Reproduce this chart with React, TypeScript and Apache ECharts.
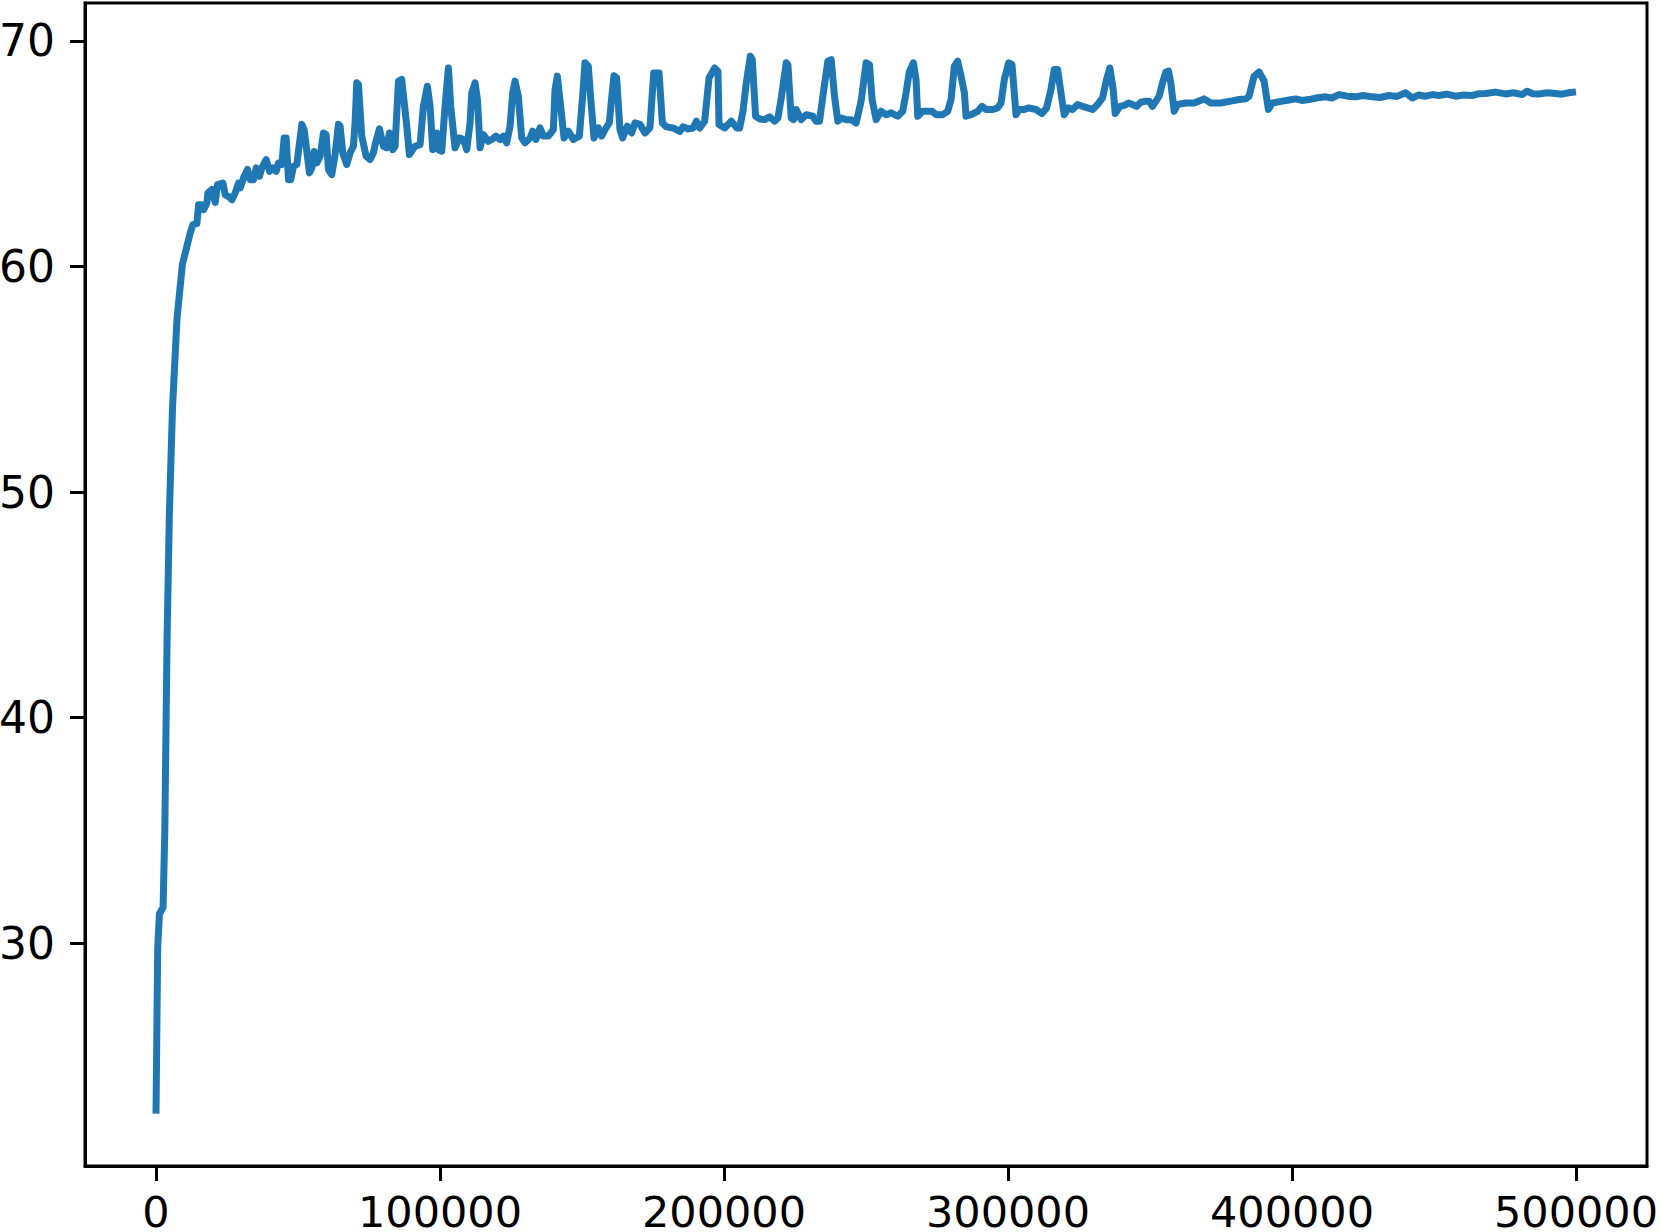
import React, { useEffect, useRef } from "react";
import * as echarts from "echarts";

// Training steps (x) and accuracy values (y)
const steps: number[] = [
  0, 600, 1200, 2500, 3100, 3900, 4700, 5800, 7400, 9300, 10900, 12060, 13000, 14400, 15000,
  16170, 16760, 17930, 18280, 19680, 20850, 21670, 23550, 24370, 25540, 26720, 27890, 29060,
  29650, 30820, 32230, 33170, 34340, 35280, 36450, 37270, 38800, 39970, 41140, 42310, 43130,
  44300, 45120, 45830, 46650, 47470, 48410, 49580, 51340, 52160, 54040, 54860, 55680, 56620,
  57790, 58960, 59900, 60720, 61890, 63060, 64230, 64820, 65760, 67170, 68340, 69520, 70100,
  70690, 71280, 72450, 73980, 75390, 76560, 77150, 78670, 80080, 81250, 82190, 83360, 84180,
  85360, 86530, 88290, 89230, 90400, 91220, 92980, 94150, 95560, 96500, 97440, 98840, 99430,
  100610, 101780, 102960, 103780, 105300, 106830, 108240, 109410, 110590, 111170, 112350,
  113170, 114110, 115280, 117040, 118210, 119740, 121140, 122320, 123490, 124660, 125600,
  126420, 127590, 128770, 129940, 131700, 132640, 133810, 135220, 136390, 138150, 139910,
  140500, 141320, 142490, 143670, 145190, 146950, 149060, 150230, 151050, 152230, 153050,
  154220, 155750, 156920, 158090, 159620, 160440, 161260, 162200, 163370, 164310, 165950,
  167480, 168650, 170410, 172170, 173930, 175250, 177130, 178300, 179710, 182060, 184400,
  185580, 187340, 189100, 190270, 191440, 193200, 194730, 196720, 197890, 198240, 200230,
  202580, 204570, 205510, 206680, 207850, 209260, 209960, 211130, 212540, 214300, 216050,
  217810, 218980, 220160, 221910, 222500, 223670, 224490, 225430, 227190, 228950, 231290,
  232460, 233630, 234810, 236560, 237740, 238910, 240080, 241260, 243010, 244770, 246530,
  248280, 250040, 251210, 252150, 253560, 255320, 257070, 258830, 261170, 262930, 264100,
  265280, 266690, 267620, 268210, 269970, 271730, 273250, 274660, 277010, 278770, 279940,
  281110, 282290, 283460, 284640, 285220, 286980, 289320, 290850, 292260, 294600, 296360,
  297530, 298710, 300230, 301400, 302220, 302810, 303980, 305740, 307270, 309840, 311950,
  313600, 315120, 316290, 317460, 318990, 319810, 321330, 322740, 324500, 326260, 328020,
  329780, 331530, 333290, 334700, 335870, 337050, 337750, 339390, 340910, 342440, 343850,
  345250, 346780, 348540, 349710, 350880, 353230, 354400, 355580, 356520, 357330, 358510,
  359680, 362610, 365540, 369060, 371400, 374920, 378440, 381370, 383710, 384890, 386650,
  388410, 390170, 391690, 393100, 396620, 399000, 401310, 403500, 406000, 409000, 411860,
  414000, 416550, 419500, 422410, 425000, 428270, 431000, 434130, 437000, 439990, 442340,
  444500, 447030, 449500, 451720, 454500, 457580, 460500, 463440, 466000, 468130, 471640,
  475160, 478000, 481020, 482780, 484800, 486880, 490000, 492740, 495000, 497430, 500000,
];

const accuracy: number[] = [
  22.45, 29.8, 31.3, 31.6, 35.0, 43.5, 49.0, 53.7, 57.7, 60.1, 60.9, 61.49, 61.86, 61.9, 62.74,
  62.74, 62.52, 62.82, 63.26, 63.41, 62.84, 63.63, 63.7, 63.18, 63.1, 62.96, 63.26, 63.7,
  63.48, 63.93, 64.3, 63.85, 63.85, 64.37, 64.0, 64.37, 64.74, 64.22, 64.37, 64.22, 64.59,
  64.52, 65.7, 65.7, 63.85, 63.85, 64.44, 64.52, 66.3, 66.07, 64.15, 64.37, 65.1, 64.59,
  64.89, 65.92, 65.85, 64.3, 64.07, 64.96, 66.3, 66.22, 65.04, 64.52, 65.04, 65.33, 66.37,
  68.14, 68.07, 65.78, 64.89, 64.74, 65.04, 65.4, 66.1, 65.33, 65.26, 65.92, 65.18, 65.33,
  68.22, 68.29, 66.22, 64.96, 65.18, 65.33, 65.4, 67.1, 67.99, 67.1, 65.18, 65.92, 65.18,
  65.11, 67.1, 68.8, 67.1, 65.26, 65.7, 65.63, 65.18, 66.37, 67.7, 68.14,
  67.4, 65.26, 65.85, 65.55, 65.63, 65.78, 65.63, 65.78, 65.48, 66.22, 67.7,
  68.22, 67.55, 65.7, 65.48, 65.7, 66.0, 65.63, 66.15, 65.78, 65.78, 66.07,
  67.84, 68.44, 67.1, 65.7, 66.0, 65.63, 65.78, 67.55, 69.03, 68.88, 67.47,
  65.7, 66.15, 65.78, 66.07, 66.37, 67.47, 68.46, 68.36, 66.07, 65.7, 66.22,
  65.92, 66.37, 66.3, 65.92, 66.15, 68.58, 68.58, 66.36, 66.19, 66.14, 65.99,
  66.19, 66.1, 66.14, 66.44, 66.14, 66.44, 68.36, 68.8, 68.65, 66.29, 66.14,
  66.44, 66.14, 66.14, 66.88, 68.14, 69.32, 69.17, 66.66, 66.54, 66.51, 66.63,
  66.44, 66.58, 67.47, 69.03, 68.95, 66.58, 66.51, 66.96, 66.51, 66.73, 66.66,
  66.44, 66.44, 67.55, 69.1, 69.17, 67.55, 66.44, 66.58, 66.51, 66.51, 66.36,
  67.33, 69.03, 68.95, 67.4, 66.51, 66.88, 66.73, 66.81, 66.66, 66.88, 67.7,
  68.65, 69.03, 68.29, 66.66, 66.88, 66.88, 66.88, 66.73, 66.73, 66.88, 67.4,
  68.88, 69.1, 68.44, 67.7, 66.66, 66.73, 66.88, 67.1, 66.96, 66.96, 67.03,
  67.25, 68.29, 69.03, 68.95, 67.7, 66.73, 66.96, 66.96, 67.03, 66.96, 66.78,
  67.03, 67.84, 68.73, 68.73, 67.4, 66.73, 67.03, 66.96, 67.18, 67.1, 67.03,
  66.96, 67.18, 67.47, 68.29, 68.8, 67.84, 66.78, 67.1, 67.14, 67.25, 67.18,
  67.1, 67.28, 67.33, 67.33, 67.1, 67.55, 68.14, 68.62, 68.66, 68.14, 66.88,
  67.18, 67.25, 67.25, 67.43, 67.25, 67.25, 67.33, 67.4, 67.43, 67.55, 68.44,
  68.62, 68.22, 66.96, 67.25, 67.33, 67.38, 67.43, 67.36, 67.4, 67.48, 67.52,
  67.47, 67.62, 67.55, 67.52, 67.58, 67.52, 67.49, 67.58, 67.54, 67.7, 67.47,
  67.6, 67.55, 67.62, 67.58, 67.64, 67.55, 67.6, 67.58, 67.66, 67.67, 67.73,
  67.65, 67.7, 67.62, 67.77, 67.66, 67.65, 67.7, 67.67, 67.64, 67.7, 67.74,
];

const xTicks: number[] = [0, 100000, 200000, 300000, 400000, 500000];
const yTicks: number[] = [30, 40, 50, 60, 70];

const X_MIN = -25000;
const X_MAX = 525000;
const Y_MIN = 20.13;
const Y_MAX = 71.68;

export default function App() {
  const ref = useRef<HTMLDivElement>(null);

  useEffect(() => {
    if (!ref.current) return;
    const chart = echarts.init(ref.current, undefined, { renderer: "svg" });
    const font = "DejaVu Sans";
    const data = steps.map((s, i) => [s, accuracy[i]]);
    chart.setOption({
      animation: false,
      backgroundColor: "#ffffff",
      grid: {
        left: 85,
        top: 3,
        right: 14,
        bottom: 66,
        containLabel: false,
        outerBoundsMode: "none",
        show: true,
        borderColor: "#000000",
        borderWidth: 3,
        backgroundColor: "transparent",
      },
      xAxis: {
        type: "value",
        min: X_MIN,
        max: X_MAX,
        splitLine: { show: false },
        axisLine: { show: true, onZero: false, lineStyle: { color: "#000", width: 3 } },
        axisTick: {
          show: true,
          length: 15,
          customValues: xTicks,
          lineStyle: { color: "#000", width: 3 },
        },
        axisLabel: {
          customValues: xTicks,
          margin: 24,
          color: "#000",
          fontSize: 43,
          fontFamily: font,
          formatter: (v: number) => String(v),
        },
      },
      yAxis: {
        type: "value",
        min: Y_MIN,
        max: Y_MAX,
        splitLine: { show: false },
        axisLine: { show: true, onZero: false, lineStyle: { color: "#000", width: 3 } },
        axisTick: {
          show: true,
          length: 15,
          customValues: yTicks,
          lineStyle: { color: "#000", width: 3 },
        },
        axisLabel: {
          customValues: yTicks,
          margin: 30,
          color: "#000",
          fontSize: 44,
          fontFamily: font,
          formatter: (v: number) => String(v),
        },
      },
      series: [
        {
          type: "line",
          data,
          showSymbol: false,
          symbol: "none",
          smooth: false,
          lineStyle: { color: "#1f77b4", width: 7, join: "round", cap: "butt" },
          itemStyle: { color: "#1f77b4" },
        },
      ],
    });
    return () => chart.dispose();
  }, []);

  return (
    <div
      ref={ref}
      style={{ position: "fixed", left: 0, top: 0, width: 1661, height: 1232, background: "#fff" }}
    />
  );
}
